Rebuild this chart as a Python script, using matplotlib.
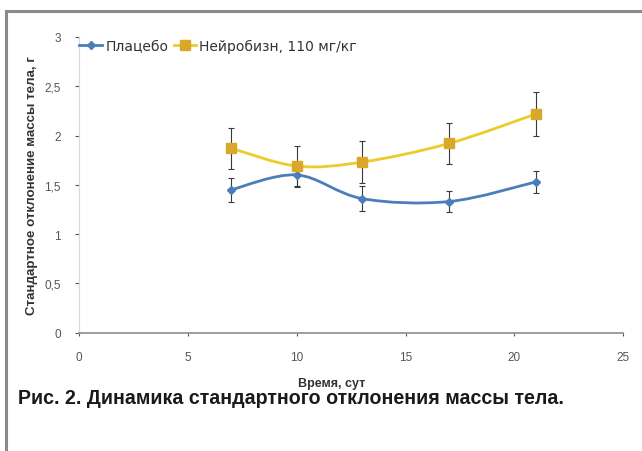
import matplotlib
matplotlib.use("Agg")
import matplotlib.pyplot as plt
import numpy as np
from matplotlib.path import Path
from matplotlib.patches import PathPatch
from matplotlib.lines import Line2D

# data
days = [7, 10, 13, 17, 21]
placebo = [1.45, 1.60, 1.36, 1.33, 1.53]
placebo_err = [0.12, 0.12, 0.13, 0.11, 0.11]
neuro = [1.87, 1.69, 1.73, 1.92, 2.22]
neuro_err = [0.21, 0.20, 0.21, 0.21, 0.22]
labels = ["Плацебо", "Нейробизн, 110 мг/кг"]
xticks = [0, 5, 10, 15, 20, 25]
yticks = [0, 0.5, 1, 1.5, 2, 2.5, 3]
ytick_labels = ["0", "0,5", "1", "1,5", "2", "2,5", "3"]

BLUE = "#4A7EBB"
YEL = "#EDCB2A"
YEL_MK = "#D9A82A"

plt.rcParams["font.family"] = ["Liberation Sans", "DejaVu Sans"]


def smooth_path(x, y, t=1 / 6):
    # Excel-like smoothed line: cubic Bezier segments through the data points
    x = np.asarray(x, float); y = np.asarray(y, float)
    verts = [(x[0], y[0])]; codes = [Path.MOVETO]
    n = len(x)
    for i in range(n - 1):
        x0, y0 = (x[i - 1], y[i - 1]) if i > 0 else (x[i], y[i])
        x3, y3 = (x[i + 2], y[i + 2]) if i + 2 < n else (x[i + 1], y[i + 1])
        c1 = (x[i] + (x[i + 1] - x0) * t, y[i] + (y[i + 1] - y0) * t)
        c2 = (x[i + 1] - (x3 - x[i]) * t, y[i + 1] - (y3 - y[i]) * t)
        verts += [c1, c2, (x[i + 1], y[i + 1])]
        codes += [Path.CURVE4] * 3
    return Path(verts, codes)


fig = plt.figure(figsize=(6.42, 4.52), dpi=100)
ax = fig.add_axes([0.123, 0.262, 0.848, 0.654])

for vals, errs, col, mk, mfc, ms in [
    (placebo, placebo_err, BLUE, "D", BLUE, 4),
    (neuro, neuro_err, YEL, "s", YEL_MK, 7),
]:
    ax.errorbar(days, vals, yerr=errs, fmt="none", ecolor="#3a3a3a",
                elinewidth=0.8, capsize=2.5, capthick=0.8, zorder=2)
    ax.add_patch(PathPatch(smooth_path(days, vals), fill=False, edgecolor=col,
                           lw=2, zorder=3))
    ax.plot(days, vals, ls="none", marker=mk, ms=ms, mfc=mfc, mec=mfc, zorder=4)

ax.set_xlim(0, 25)
ax.set_ylim(0, 3)
ax.set_xticks(xticks)
ax.set_yticks(yticks)
ax.set_yticklabels(ytick_labels)
ax.tick_params(axis="both", labelsize=8.5, colors="#555555", length=3, width=0.8)
ax.tick_params(axis="y", pad=10)
ax.tick_params(axis="x", direction="out", length=2, pad=11)
for side in ["top", "right"]:
    ax.spines[side].set_visible(False)
ax.spines["left"].set_color("#d9d9d9")
ax.spines["bottom"].set_color("#8c8c8c")
ax.spines["bottom"].set_linewidth(1.2)
ax.set_xlabel("Время, сут", fontsize=9, color="#333333", fontweight="bold")
ax.xaxis.set_label_coords(0.465, -0.15)
ax.set_ylabel("Стандартное отклонение массы тела, г", fontsize=9.6, color="#333333",
              fontweight="bold")
ax.yaxis.set_label_coords(-0.075, 0.5)

handles = [
    Line2D([], [], color=BLUE, lw=2, marker="D", ms=4, mfc=BLUE, mec=BLUE),
    Line2D([], [], color=YEL, lw=2, marker="s", ms=7, mfc=YEL_MK, mec=YEL_MK),
]
ax.legend(handles, labels, loc="upper left", bbox_to_anchor=(-0.022, 1.035), ncol=2,
          frameon=False, handlelength=1.6, handletextpad=0.25, columnspacing=0.4,
          labelcolor="#333333", prop={"family": "DejaVu Sans", "size": 10})

# page frame and caption
fig.add_artist(Line2D([0.010, 1.0], [0.973, 0.973], color="#8a8a8a", lw=2.2))
fig.add_artist(Line2D([0.010, 0.010], [0.0, 0.973], color="#8a8a8a", lw=2.2))
fig.text(0.028, 0.106, "Рис. 2. Динамика стандартного отклонения массы тела.",
         fontsize=14.1, fontweight="bold", color="#1a1a1a")

fig.savefig("out.png", dpi=100, facecolor="white")
